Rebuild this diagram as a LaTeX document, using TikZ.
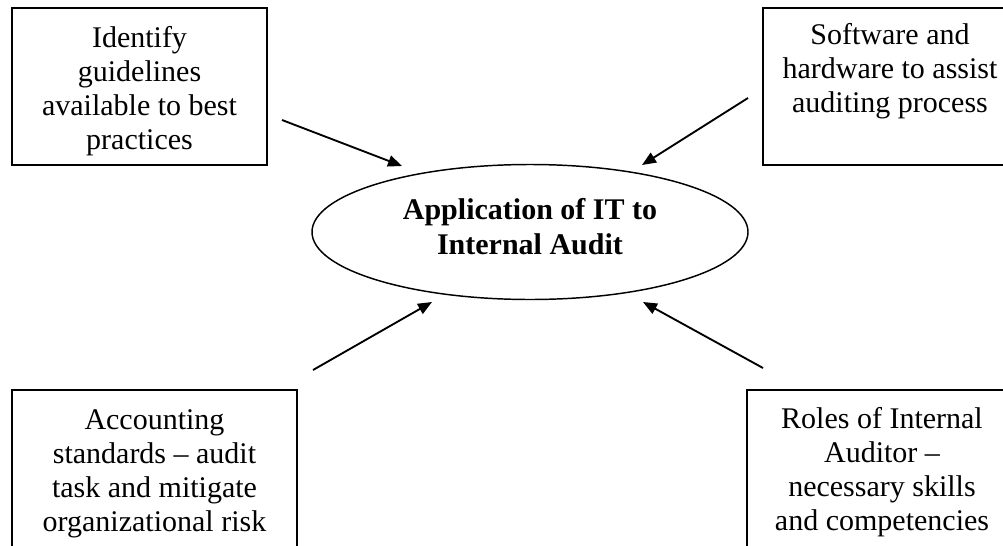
\documentclass[tikz,border=0pt]{standalone}
\usepackage{fontspec}
\setmainfont{Liberation Serif}
\usetikzlibrary{arrows.meta,shapes.geometric}
\begin{document}
\begin{tikzpicture}[x=0.75pt,y=-0.75pt,
  every node/.style={inner sep=0pt, outer sep=0pt},
  topicbox/.style={draw, line width=1.2pt, rectangle},
  topictext/.style={align=center, font=\fontsize{22.5pt}{25.5pt}\selectfont},
  coreshape/.style={draw, ellipse, line width=1.1pt, minimum width=327pt, minimum height=101.25pt},
  coretext/.style={align=center, font=\fontsize{22.5pt}{26.25pt}\selectfont\bfseries},
  feed/.style={line width=1.4pt, -{Triangle[length=10.5pt,width=8.5pt]}}]

\useasboundingbox (0,0) rectangle (1003,546);
\clip (0,0) rectangle (1003,546);

% four surrounding topic boxes (right and bottom ones run past the page edge)
\node[topicbox, minimum width=191.25pt, minimum height=117.75pt] (tl) at (139.5,86.5) {};
\node[topicbox, minimum width=190.5pt, minimum height=117.75pt] (tr) at (890,86.5) {};
\node[topicbox, minimum width=213.75pt, minimum height=127.5pt] (bl) at (154.5,475) {};
\node[topicbox, minimum width=202.5pt, minimum height=127.5pt] (br) at (882,475) {};

\node[topictext] (tltext) at (139.5,91) {Identify\\guidelines\\available to best\\practices};
\node[topictext] (trtext) at (890,71) {Software and\\hardware to assist\\auditing process};
\node[topictext] (bltext) at (154.5,474) {Accounting\\standards – audit\\task and mitigate\\organizational risk};
\node[topictext] (brtext) at (882,472) {Roles of Internal\\Auditor –\\necessary skills\\and competencies};

% central theme
\node[coreshape] (core) at (530,232) {};
\node[coretext] (coretitle) at (530,227) {Application of IT to\\Internal Audit};

% arrows pointing at the central theme
\coordinate (a1s) at (282,120); \coordinate (a1e) at (402,166);
\coordinate (a2s) at (748,98);  \coordinate (a2e) at (642,165);
\coordinate (a3s) at (313,370); \coordinate (a3e) at (432,302);
\coordinate (a4s) at (763,368); \coordinate (a4e) at (643,302);

\draw[feed] (a1s) -- (a1e);
\draw[feed] (a2s) -- (a2e);
\draw[feed] (a3s) -- (a3e);
\draw[feed] (a4s) -- (a4e);
\end{tikzpicture}
\end{document}
